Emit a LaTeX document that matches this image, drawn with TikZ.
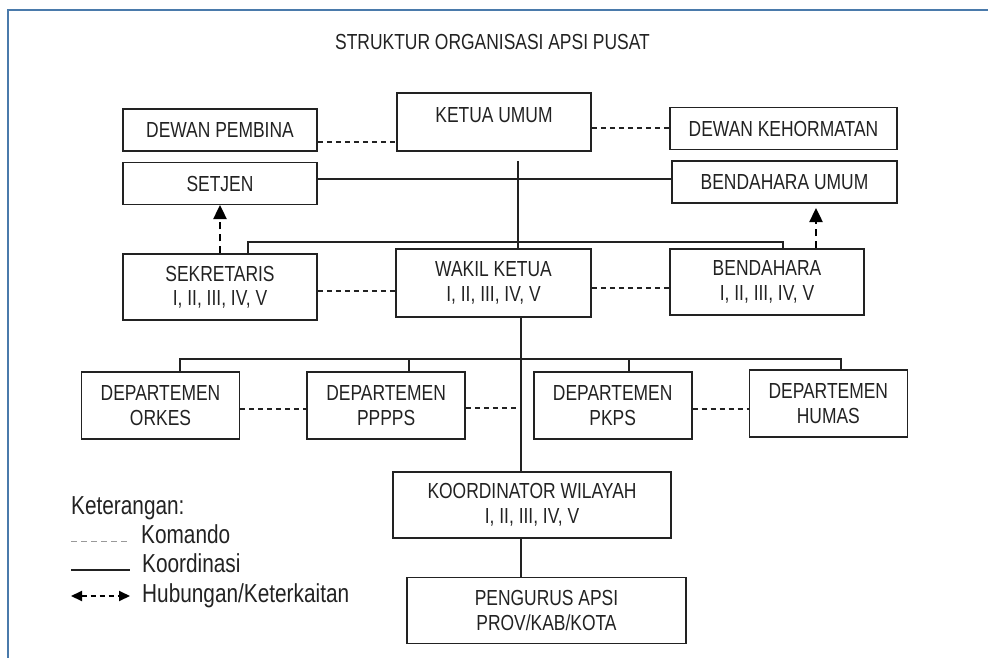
\documentclass[tikz,border=0pt]{standalone}
\usepackage{fontspec}
\setmainfont{Liberation Sans}[FakeStretch=0.8]
\usetikzlibrary{arrows.meta, positioning}

\definecolor{framebl}{RGB}{74,122,171}
\definecolor{inkgray}{RGB}{34,34,34}
\newcommand{\boxfont}{\fontsize{21.8}{24.5}\selectfont}
\newcommand{\legfont}{\fontsize{26}{29}\selectfont}

\begin{document}
\begin{tikzpicture}[x=1pt, y=-1pt, text=inkgray,
            % Styles
            orgbox/.style={rectangle, draw=inkgray, line width=1.6pt, align=center, minimum width=194pt, minimum height=42pt, inner sep=1pt, font=\boxfont},
            orgboxtall/.style={orgbox, minimum height=66pt},
            deptbox/.style={orgbox, minimum width=158pt, minimum height=67pt},
            line/.style={draw=inkgray, line width=1.2pt},
            dashedline/.style={draw=inkgray, line width=1.1pt, dash pattern=on 5pt off 4pt},
            linkline/.style={draw=black, line width=2.4pt, dash pattern=on 7pt off 5pt, -{Triangle[length=14pt, width=13pt]}},
            legendtext/.style={anchor=base west, inner sep=0pt, font=\legfont}
        ]
        \useasboundingbox (0,0) rectangle (988,658);

        % Frame
        \draw[framebl, line width=2.5pt] (8,664) -- (8,10) -- (994,10);

        % Title
        \node[font=\boxfont] (title) at (492.5,42) {STRUKTUR ORGANISASI APSI PUSAT};

        % Top level
        \node[orgbox, minimum height=58pt, text depth=14pt] (ketua) at (494,122) {KETUA UMUM};
        \node[orgbox] (pembina) at (220,130) {DEWAN PEMBINA};
        \node[orgbox, minimum width=227pt] (kehormatan) at (783.5,128.5) {DEWAN KEHORMATAN};
        \node[orgbox, below=10pt of pembina] (setjen) {SETJEN};
        \node[orgbox, minimum width=225pt] (bendum) at (784.5,182) {BENDAHARA UMUM};

        % Second level
        \node[orgboxtall, below=48pt of setjen] (sekretaris) {SEKRETARIS\\I, II, III, IV, V};
        \node[orgboxtall, minimum width=195pt, minimum height=68pt] (wakil) at (493.5,283) {WAKIL KETUA\\I, II, III, IV, V};
        \node[orgboxtall] (bendahara) at (767,282) {BENDAHARA\\I, II, III, IV, V};

        % Departments
        \node[deptbox] (orkes) at (160.5,405.5) {DEPARTEMEN\\ORKES};
        \node[deptbox, right=66pt of orkes] (pppps) {DEPARTEMEN\\PPPPS};
        \node[deptbox, right=67pt of pppps] (pkps) {DEPARTEMEN\\PKPS};
        \node[deptbox, right=56pt of pkps, yshift=2pt] (humas) {DEPARTEMEN\\HUMAS};

        % Regions
        \node[orgboxtall, minimum width=278pt] (koord) at (532,505) {KOORDINATOR WILAYAH\\I, II, III, IV, V};
        \node[orgboxtall, minimum width=279pt, below=38pt of koord, xshift=14.5pt] (pengurus) {PENGURUS APSI\\PROV/KAB/KOTA};

        % Junctions
        \coordinate (trunktop) at (518,161);
        \coordinate (busleft) at (248,242);
        \coordinate (busright) at (783,242);
        \coordinate (linkend) at (816,208);
        \coordinate (deptbus) at (521,359);
        \coordinate (busorkes) at (180,359);
        \coordinate (bushumas) at (841,359);

        % Edges
        \path[dashedline] (pembina.east |- 0,142) -- (ketua.west |- 0,142);
        \path[dashedline] (ketua.east |- 0,128) -- (kehormatan.west |- 0,128);
        \path[line] (setjen.east |- 0,179) -- (bendum.west |- 0,179);
        \path[line] (trunktop) -- (trunktop |- wakil.north);
        \path[line] (busleft |- sekretaris.north) -- (busleft) -- (busright) -- (busright |- bendahara.north);
        \path[linkline] (sekretaris.north) -- (setjen.south |- 0,205);
        \path[linkline] (bendahara.north -| linkend) -- (linkend);
        \path[dashedline] (sekretaris.east |- 0,291) -- (wakil.west |- 0,291);
        \path[dashedline] (wakil.east |- 0,288) -- (bendahara.west |- 0,288);

        \path[line] (wakil.south -| deptbus) -- (koord.north -| deptbus);
        \path[line] (koord.south -| deptbus) -- (pengurus.north -| deptbus);
        \path[line] (orkes.north -| busorkes) -- (busorkes) -- (bushumas) -- (humas.north -| bushumas);
        \path[line] (pppps.north -| 409,0) -- (deptbus -| 409,0);
        \path[line] (pkps.north -| 629,0) -- (deptbus -| 629,0);
        \path[dashedline] (orkes.east |- 0,409) -- (pppps.west |- 0,409);
        \path[dashedline] (pppps.east |- 0,408) -- (deptbus |- 0,408);
        \path[dashedline] (pkps.east |- 0,409) -- (humas.west |- 0,409);

        % Legend
        \node[legendtext] (keterangan) at (71,514) {Keterangan:};
        \node[legendtext] (komando) at (141,543) {Komando};
        \node[legendtext] (koordinasi) at (142,572) {Koordinasi};
        \node[legendtext] (hubungan) at (142,602) {Hubungan/Keterkaitan};
        \path[draw=black!40, line width=1pt, dash pattern=on 6pt off 4pt] (keterangan.base west |- 0,541) -- (130,541);
        \path[line] (keterangan.base west |- 0,570) -- (130,570);
        \path[draw=black, line width=2pt, dash pattern=on 5pt off 4pt, {Triangle[length=11pt, width=10pt]}-{Triangle[length=11pt, width=10pt]}] (keterangan.base west |- 0,596) -- (130,596);

    \end{tikzpicture}
\end{document}
